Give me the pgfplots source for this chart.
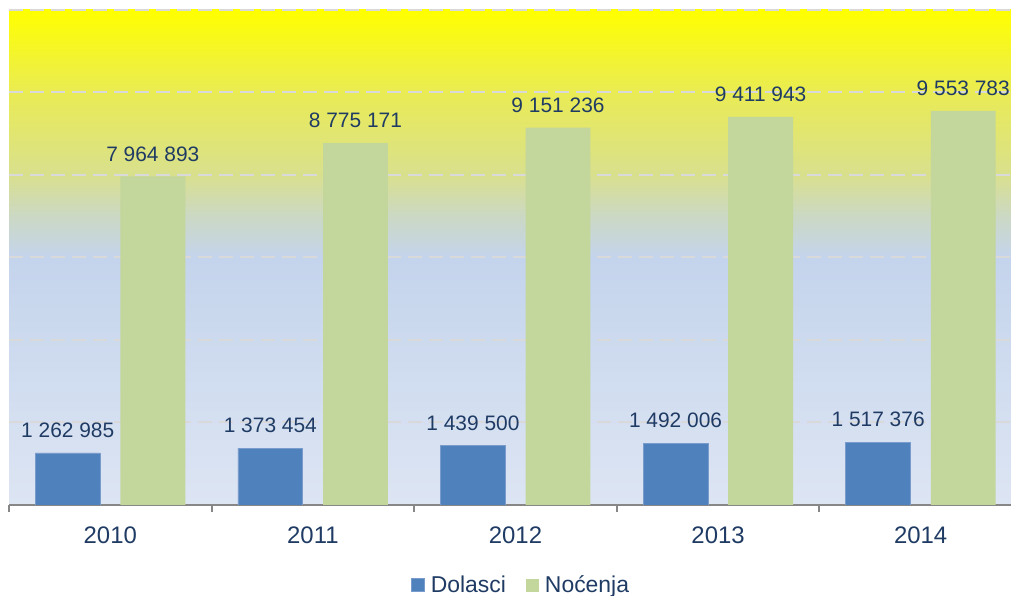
\documentclass[border=0pt]{standalone}
\usepackage{pgfplots}
\pgfplotsset{compat=1.18}
\usepackage{fontspec}
\setmainfont{Liberation Sans}
\definecolor{dol}{HTML}{4F81BD}
\definecolor{dolb}{HTML}{7A9CCC}
\definecolor{noc}{HTML}{C3D69B}
\definecolor{txt}{HTML}{1F3B64}
\definecolor{gridc}{HTML}{D9D9D9}
\definecolor{axc}{HTML}{878787}
\definecolor{shA}{HTML}{DDE5F3}
\definecolor{shB}{HTML}{C4D4EC}
\definecolor{shC}{HTML}{CBD8C6}
\definecolor{shD}{HTML}{D9E08C}
\definecolor{shE}{HTML}{E9EB55}
\definecolor{shF}{HTML}{FFFF00}
\pgfdeclareverticalshading{bgshade}{100bp}{color(0bp)=(shA); color(25bp)=(shA); color(50bp)=(shB); color(54bp)=(shC); color(58.5bp)=(shD); color(66.5bp)=(shE); color(75bp)=(shF); color(100bp)=(shF)}
\begin{document}
\begin{tikzpicture}
\path[use as bounding box] (0,0) rectangle (1011bp,596bp);
\begin{axis}[
  at={(9bp,91bp)}, anchor=south west,
  scale only axis, width=1002bp, height=495bp,
  xmin=-0.5, xmax=4.446, ymin=0, ymax=12000000,
  axis background/.style={shading=bgshade},
  ybar, bar width=0.32,
  axis x line*=bottom,
  y axis line style={draw=none},
  x axis line style={axc, line width=2bp},
  ytick={0,2000000,4000000,6000000,8000000,10000000,12000000},
  yticklabels={},
  major y tick style={draw=none},
  scaled y ticks=false,
  ymajorgrids,
  major grid style={gridc, line width=2bp, dash pattern=on 14bp off 7bp},
  xtick={0,1,2,3,4},
  xticklabels={2010,2011,2012,2013,2014},
  major x tick style={draw=none},
  minor xtick={-0.5,0.5,1.5,2.5,3.5},
  minor tick length=7bp,
  tick align=outside,
  minor x tick style={axc, line width=2bp},
  xticklabel style={font=\fontsize{24}{24}\selectfont, text=txt, anchor=north, inner sep=0pt, yshift=-17bp},
  nodes near coords={\pgfmathprintnumber[fixed,precision=0,1000 sep={\ },assume math mode=true]{\pgfplotspointmeta}},
  every node near coord/.append style={font=\fontsize{21}{21}\selectfont, text=txt, inner sep=0pt, yshift=15bp},
  legend style={draw=none, fill=none, legend columns=2, at={(0.511,-0.162)}, anchor=center,
    font=\fontsize{23}{23}\selectfont, text=txt,
    /tikz/every even column/.append style={column sep=18bp}},
  legend image code/.code={\fill[#1] (0bp,-6.5bp) rectangle (13bp,6.5bp); \path (17bp,0bp);},
]
\addplot[fill=dol, draw=dolb, line width=0.8bp, bar shift=-0.21] coordinates {(0,1262985) (1,1373454) (2,1439500) (3,1492006) (4,1517376)};
\addplot[fill=noc, draw=none, bar shift=0.21] coordinates {(0,7964893) (1,8775171) (2,9151236) (3,9411943) (4,9553783)};
\legend{Dolasci, Noćenja}
\end{axis}
\end{tikzpicture}
\end{document}
